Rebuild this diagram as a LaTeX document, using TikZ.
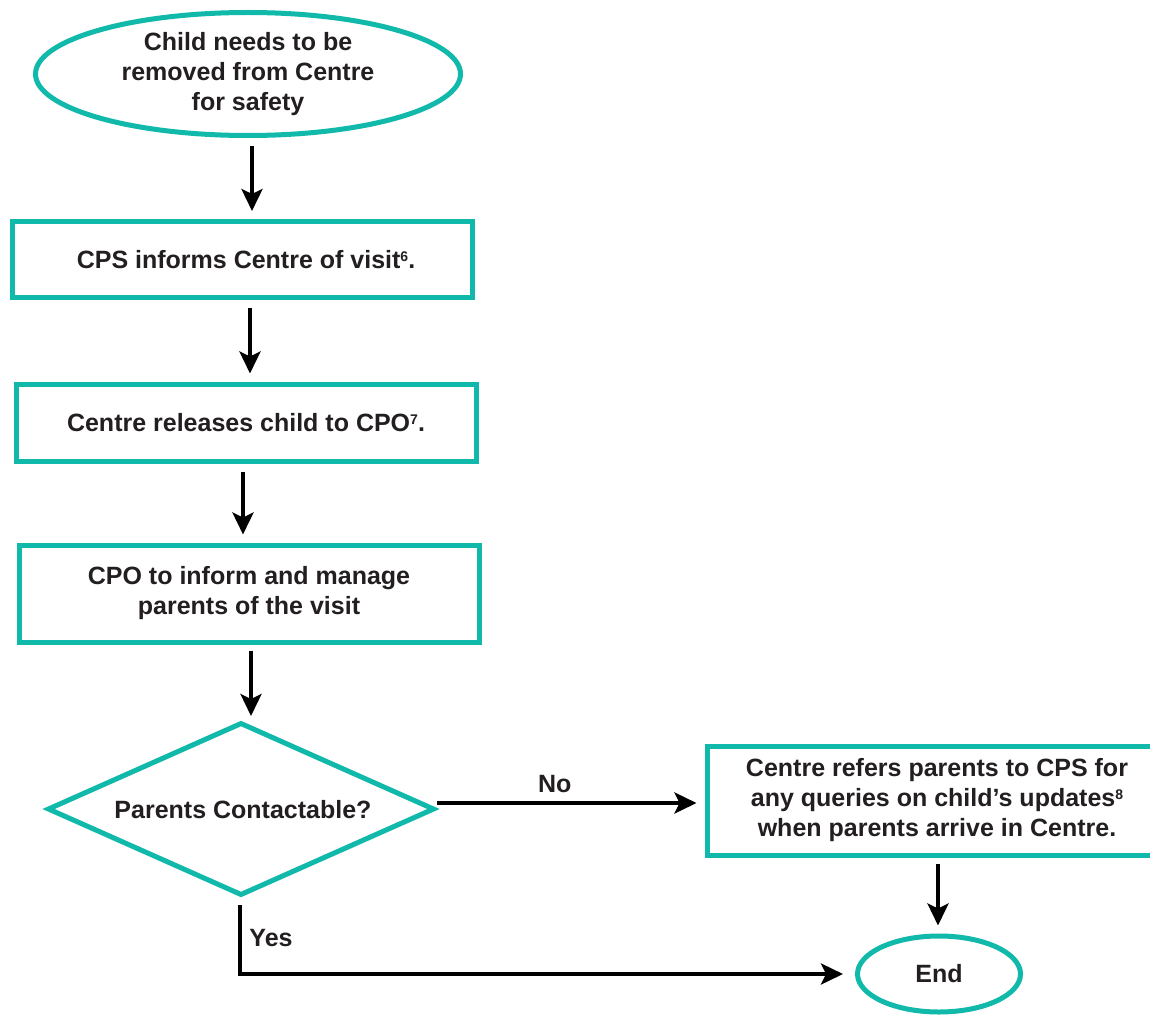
\documentclass[tikz,border=0pt]{standalone}
\usepackage{fontspec}
\setmainfont{Liberation Sans}
\usetikzlibrary{shapes.geometric,arrows.meta,calc}
\definecolor{tealc}{RGB}{16,185,170}
\definecolor{txt}{RGB}{35,31,32}
\newcommand{\supnum}[1]{\raisebox{7pt}{\fontsize{14}{14}\selectfont #1}}
\begin{document}
\begin{tikzpicture}[x=1pt,y=-1pt,
  every node/.style={text=txt,font=\fontsize{25}{30}\selectfont\bfseries,align=center,inner sep=0pt},
  boxstep/.style={draw=tealc,line width=5pt,rectangle,minimum width=460pt},
  term/.style={draw=tealc,line width=5pt,ellipse},
  decide/.style={draw=tealc,line width=5pt,diamond,minimum width=387pt,minimum height=173pt},
  arr/.style={draw=black,line width=4pt,-{Stealth[length=22pt,width=21pt,inset=5pt]}},
  plainline/.style={draw=black,line width=4pt}]
\useasboundingbox (0,0) rectangle (1150,1014);
\fill[white] (0,0) rectangle (1150,1014);

\node[term,minimum width=425pt,minimum height=123pt] (start) at (248,74) {Child needs to be\\removed from Centre\\for safety};
\node[boxstep,minimum height=76pt] (b1) at (242,259.5) {\hspace*{8pt}CPS informs Centre of visit\supnum{6}.};
\node[boxstep,minimum height=77pt] (b2) at (246,422.5) {Centre releases child to CPO\supnum{7}.};
\node[boxstep,minimum height=97pt] (b3) at (249,593.5) {CPO to inform and manage\\parents of the visit};
\node[decide] (dec) at (241,809) {};
\node (dectext) at (243,810) {Parents Contactable?};
\node[boxstep,minimum height=109pt] (b4) at (937,800.5) {Centre refers parents to CPS for\\any queries on child’s updates\supnum{8}\\when parents arrive in Centre.};
\node[term,minimum width=163pt,minimum height=76pt] (end) at (939,974) {End};

\draw[arr,shorten <=8pt,shorten >=8pt] ([xshift=4pt]start.south) -- ([xshift=4pt]start.south |- b1.north);
\draw[arr,shorten <=8pt,shorten >=8pt] ([xshift=8pt]b1.south) -- ([xshift=8pt]b1.south |- b2.north);
\draw[arr,shorten <=8pt,shorten >=8pt] ([xshift=-3pt]b2.south) -- ([xshift=-3pt]b2.south |- b3.north);
\draw[arr,shorten <=6pt,shorten >=4pt] ([xshift=2pt]b3.south) -- ([xshift=2pt]b3.south |- dec.north);
\draw[arr,shorten >=8pt] ([yshift=6pt]dec.east) -- ([yshift=6pt]dec.east -| b4.west) node[pos=0.44,yshift=19pt] (nolab) {No};
\draw[arr,shorten <=6pt,shorten >=8pt] ([xshift=1pt]b4.south) -- ([xshift=1pt]b4.south |- end.north);
\draw[arr,shorten <=7pt,shorten >=12pt] ([xshift=-1pt]dec.south) |- (end.west);
\node (yeslab) at (271,938) {Yes};
\end{tikzpicture}
\end{document}
